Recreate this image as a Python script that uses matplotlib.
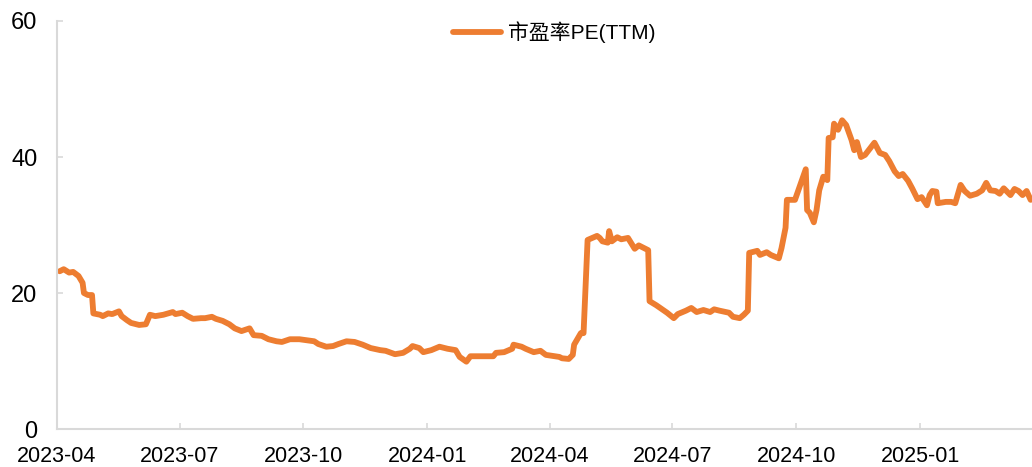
import matplotlib
matplotlib.use("Agg")
import matplotlib.pyplot as plt
import matplotlib.dates as mdates
import pandas as pd

dates = [
    "2023-04-03", "2023-04-06", "2023-04-10", "2023-04-13", "2023-04-17", "2023-04-20",
    "2023-04-21", "2023-04-24", "2023-04-27", "2023-04-28", "2023-05-03", "2023-05-05",
    "2023-05-09", "2023-05-12", "2023-05-17", "2023-05-19", "2023-05-23", "2023-05-26",
    "2023-06-01", "2023-06-06", "2023-06-09", "2023-06-13", "2023-06-19", "2023-06-26",
    "2023-06-28", "2023-07-03", "2023-07-07", "2023-07-11", "2023-07-17", "2023-07-20",
    "2023-07-25", "2023-07-28", "2023-08-02", "2023-08-07", "2023-08-11", "2023-08-16",
    "2023-08-22", "2023-08-25", "2023-08-31", "2023-09-05", "2023-09-11", "2023-09-15",
    "2023-09-21", "2023-09-28", "2023-10-09", "2023-10-12", "2023-10-18", "2023-10-23",
    "2023-10-27", "2023-11-02", "2023-11-08", "2023-11-14", "2023-11-20", "2023-11-27",
    "2023-12-01", "2023-12-08", "2023-12-14", "2023-12-19", "2023-12-21", "2023-12-26",
    "2023-12-29", "2024-01-04", "2024-01-10", "2024-01-16", "2024-01-22", "2024-01-25",
    "2024-01-30", "2024-02-02", "2024-02-08", "2024-02-19", "2024-02-21", "2024-02-27",
    "2024-03-04", "2024-03-05", "2024-03-11", "2024-03-14", "2024-03-20", "2024-03-25",
    "2024-03-29", "2024-04-08", "2024-04-10", "2024-04-15", "2024-04-18", "2024-04-19",
    "2024-04-24", "2024-04-26", "2024-04-29", "2024-05-06", "2024-05-08", "2024-05-10",
    "2024-05-14", "2024-05-15", "2024-05-17", "2024-05-21", "2024-05-24", "2024-05-29",
    "2024-06-03", "2024-06-06", "2024-06-11", "2024-06-13", "2024-06-14", "2024-06-19",
    "2024-06-24", "2024-06-27", "2024-07-02", "2024-07-05", "2024-07-11", "2024-07-15",
    "2024-07-19", "2024-07-24", "2024-07-29", "2024-08-01", "2024-08-05", "2024-08-12",
    "2024-08-15", "2024-08-20", "2024-08-23", "2024-08-26", "2024-08-27", "2024-09-02",
    "2024-09-04", "2024-09-09", "2024-09-12", "2024-09-18", "2024-09-20", "2024-09-23",
    "2024-09-24", "2024-09-26", "2024-09-30", "2024-10-08", "2024-10-09", "2024-10-11",
    "2024-10-14", "2024-10-16", "2024-10-18", "2024-10-21", "2024-10-24", "2024-10-25",
    "2024-10-28", "2024-10-29", "2024-11-01", "2024-11-04", "2024-11-07", "2024-11-11",
    "2024-11-13", "2024-11-15", "2024-11-18", "2024-11-21", "2024-11-26", "2024-11-28",
    "2024-12-02", "2024-12-06", "2024-12-09", "2024-12-13", "2024-12-16", "2024-12-19",
    "2024-12-23", "2024-12-26", "2024-12-30", "2025-01-02", "2025-01-06", "2025-01-08",
    "2025-01-10", "2025-01-13", "2025-01-14", "2025-01-20", "2025-01-24", "2025-01-27",
    "2025-01-31", "2025-02-03", "2025-02-07", "2025-02-12", "2025-02-16", "2025-02-19",
    "2025-02-22", "2025-02-26", "2025-03-01", "2025-03-04", "2025-03-09", "2025-03-12",
    "2025-03-15", "2025-03-18", "2025-03-21", "2025-03-24",
]

pe_ttm = [
    23.2, 23.5, 23.0, 23.1, 22.5, 21.5,
    20.0, 19.7, 19.7, 17.0, 16.8, 16.6,
    17.0, 16.9, 17.3, 16.6, 16.0, 15.6,
    15.3, 15.4, 16.8, 16.6, 16.8, 17.2,
    16.9, 17.1, 16.6, 16.2, 16.3, 16.3,
    16.5, 16.2, 15.9, 15.4, 14.8, 14.4,
    14.8, 13.8, 13.7, 13.2, 12.9, 12.8,
    13.2, 13.2, 12.9, 12.5, 12.1, 12.2,
    12.5, 12.9, 12.8, 12.4, 11.9, 11.6,
    11.5, 11.0, 11.2, 11.8, 12.2, 11.9,
    11.3, 11.6, 12.1, 11.8, 11.6, 10.6,
    9.9, 10.7, 10.7, 10.7, 11.2, 11.3,
    11.8, 12.4, 12.1, 11.8, 11.3, 11.5,
    10.9, 10.6, 10.4, 10.3, 10.9, 12.4,
    14.1, 14.1, 27.8, 28.4, 28.1, 27.6,
    27.4, 29.1, 27.6, 28.2, 27.9, 28.1,
    26.5, 27.0, 26.5, 26.3, 18.8, 18.2,
    17.5, 17.1, 16.3, 16.9, 17.4, 17.8,
    17.2, 17.5, 17.2, 17.6, 17.4, 17.1,
    16.5, 16.3, 16.8, 17.4, 25.9, 26.2,
    25.6, 26.0, 25.6, 25.1, 26.6, 29.6,
    33.7, 33.7, 33.7, 38.2, 32.2, 31.8,
    30.4, 32.2, 35.1, 37.1, 36.6, 42.8,
    42.9, 44.9, 44.0, 45.4, 44.7, 42.5,
    41.0, 42.2, 40.0, 40.3, 41.6, 42.1,
    40.6, 40.3, 39.4, 37.9, 37.2, 37.5,
    36.5, 35.4, 33.8, 34.1, 32.9, 34.4,
    35.0, 34.9, 33.2, 33.4, 33.4, 33.2,
    35.9, 35.0, 34.3, 34.6, 35.1, 36.2,
    35.1, 35.0, 34.6, 35.4, 34.4, 35.3,
    35.0, 34.4, 35.0, 33.7,
]

series_name = "市盈率PE(TTM)"
y_ticks = [0, 20, 40, 60]
x_tick_dates = ["2023-04-01", "2023-07-01", "2023-10-01", "2024-01-01",
                "2024-04-01", "2024-07-01", "2024-10-01", "2025-01-01"]
x_range = ["2023-04-01", "2025-03-25"]

plt.rcParams['font.family'] = ['Liberation Sans', 'Noto Sans CJK SC', 'DejaVu Sans']

fig = plt.figure(figsize=(10.32, 4.67), dpi=100)
ax = fig.add_axes([57 / 1032, 38 / 467, 975 / 1032, 408 / 467])

x = pd.to_datetime(dates)
ax.plot(x, pe_ttm, color="#ED7D31", lw=4.2, label=series_name,
        solid_joinstyle="round", solid_capstyle="round")

ax.set_ylim(0, 60)
ax.set_yticks(y_ticks)
ax.set_xlim(pd.to_datetime(x_range[0]), pd.to_datetime(x_range[1]))
ax.set_xticks(pd.to_datetime(x_tick_dates))
ax.xaxis.set_major_formatter(mdates.DateFormatter("%Y-%m"))

for s in ["top", "right"]:
    ax.spines[s].set_visible(False)
for s in ["left", "bottom"]:
    ax.spines[s].set_color("#d9d9d9")
    ax.spines[s].set_linewidth(1.5)

ax.tick_params(axis="both", direction="in", length=4, width=1.2, color="#d9d9d9",
               labelcolor="#000000")
ax.tick_params(axis="x", pad=12, labelsize=15.5)
ax.tick_params(axis="y", pad=14, labelsize=17)

leg = ax.legend(loc="upper center", bbox_to_anchor=(0.51, 1.045), frameon=False,
                fontsize=15, handlelength=2.3, handletextpad=0.3)

fig.savefig("out.png", dpi=100)
